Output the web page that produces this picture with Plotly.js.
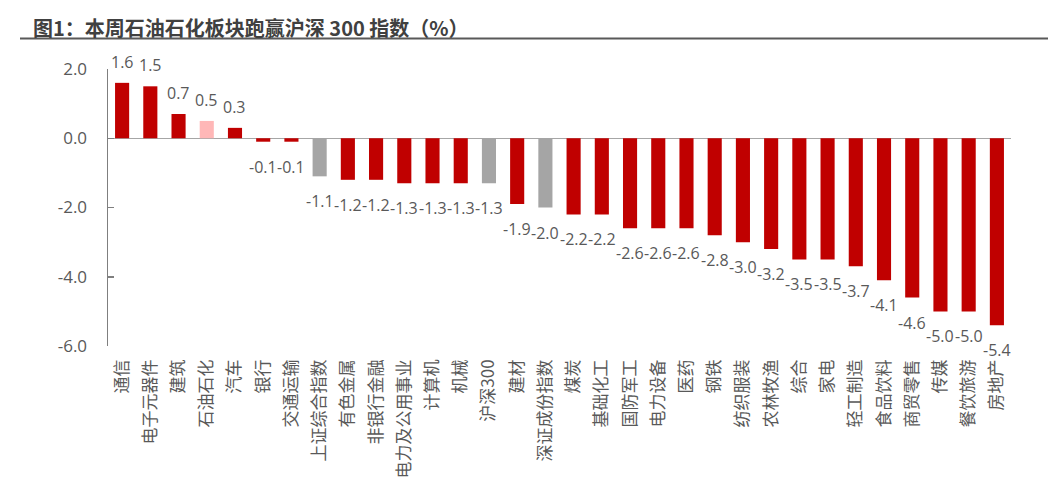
<!DOCTYPE html>
<html><head><meta charset="utf-8">
<script src="https://cdn.plot.ly/plotly-3.0.1.min.js"></script>
<style>html,body{margin:0;padding:0;background:#fff;}#chart{width:1048px;height:492px;}</style>
</head><body><div id="chart"></div>
<script>
const categories = ["通信","电子元器件","建筑","石油石化","汽车","银行","交通运输","上证综合指数","有色金属","非银行金融","电力及公用事业","计算机","机械","沪深300","建材","深证成份指数","煤炭","基础化工","国防军工","电力设备","医药","钢铁","纺织服装","农林牧渔","综合","家电","轻工制造","食品饮料","商贸零售","传媒","餐饮旅游","房地产"];
const values = [1.6,1.5,0.7,0.5,0.3,-0.1,-0.1,-1.1,-1.2,-1.2,-1.3,-1.3,-1.3,-1.3,-1.9,-2.0,-2.2,-2.2,-2.6,-2.6,-2.6,-2.8,-3.0,-3.2,-3.5,-3.5,-3.7,-4.1,-4.6,-5.0,-5.0,-5.4];
const indexNames = ["上证综合指数","沪深300","深证成份指数"];
const highlightNames = ["石油石化"];
const yTicks = [2,0,-2,-4,-6];

const colors = categories.map(c => indexNames.includes(c) ? "#A5A5A5" : (highlightNames.includes(c) ? "#FFB7B7" : "#C00000"));
const cjk = "'Noto Sans CJK SC', 'Microsoft YaHei', sans-serif";
const num = "'Open Sans', 'Noto Sans CJK SC', sans-serif";

const labelAnns = categories.map((c, i) => ({
  x: c, y: values[i], xref: "x", yref: "y",
  text: values[i].toFixed(1), showarrow: false,
  xanchor: "center", yanchor: "middle",
  yshift: values[i] >= 0 ? 21 : -25,
  font: {family: num, size: 16, color: "#595959"}
}));

Plotly.newPlot("chart", [{
  type: "bar",
  x: categories,
  y: values,
  marker: {color: colors},
  hoverinfo: "skip"
}], {
  width: 1048, height: 492,
  margin: {l: 108, r: 37, t: 69, b: 146, pad: 0},
  paper_bgcolor: "#fff", plot_bgcolor: "#fff",
  bargap: 0.5,
  showlegend: false,
  xaxis: {
    type: "category", range: [-0.5, 31.5],
    tickangle: -90, showgrid: false, showline: false, ticks: "",
    ticklabelstandoff: 9,
    tickfont: {family: cjk, size: 17, color: "#595959"},
    fixedrange: true
  },
  yaxis: {
    range: [-6, 2], tickvals: yTicks, ticktext: yTicks.map(v => v.toFixed(1)),
    showgrid: false, showline: true, linecolor: "#7f7f7f", linewidth: 1.5,
    ticks: "inside", ticklen: 6, tickcolor: "#7f7f7f", tickwidth: 1.5,
    zeroline: true, zerolinecolor: "#a6a6a6", zerolinewidth: 1.5,
    ticklabelstandoff: 16,
    tickfont: {family: num, size: 17, color: "#595959"},
    fixedrange: true
  },
  annotations: [{
    text: "<b>图1：本周石油石化板块跑赢沪深 300 指数（%）</b>",
    xref: "paper", yref: "paper", x: (31-108)/903, y: 1 + (69-27)/277,
    xanchor: "left", yanchor: "middle", showarrow: false,
    font: {family: cjk, size: 20, color: "#404040"}
  }].concat(labelAnns),
  shapes: [{
    type: "line", xref: "paper", yref: "paper",
    x0: (20-108)/903, x1: (1048-108)/903, y0: 1 + (69-38.5)/277, y1: 1 + (69-38.5)/277,
    line: {color: "#595959", width: 2}
  }]
}, {displayModeBar: false, staticPlot: true});
</script></body></html>
